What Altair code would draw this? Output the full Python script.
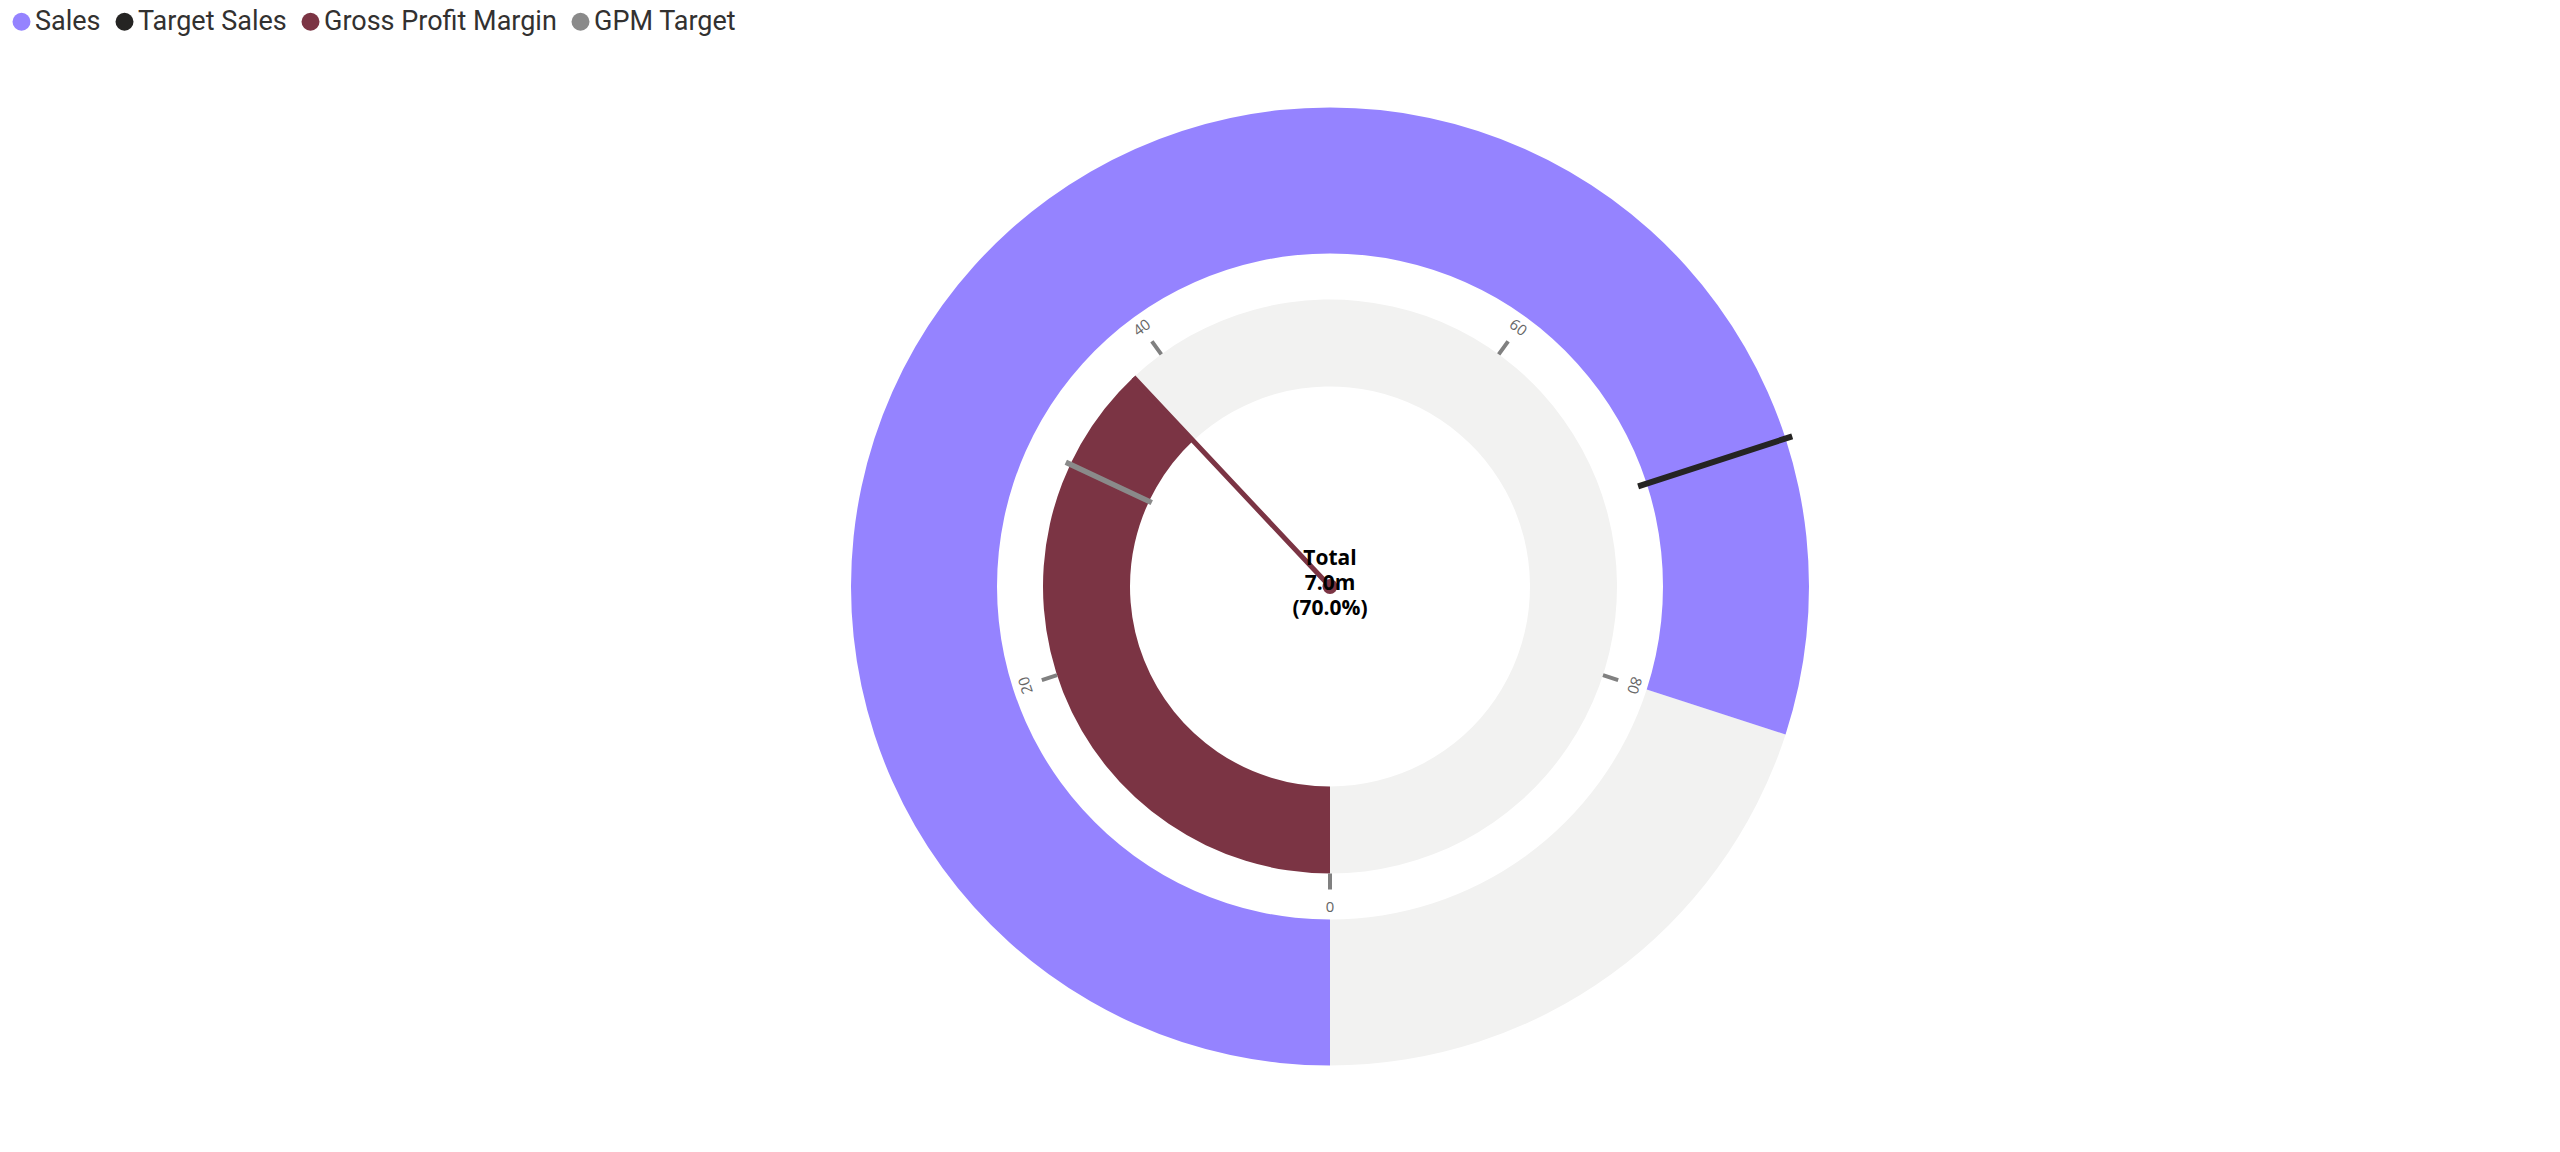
import math
import altair as alt
import pandas as pd

# ---- data ----
series_names = ["Sales", "Target Sales", "Gross Profit Margin", "GPM Target"]
series_colors = ["#9583FF", "#252423", "#7B3444", "#8A8A8A"]
gauge_min = 0
gauge_max = 100
sales_value = [80.0]
sales_target = [70.0]
gpm_value = [38.0]
gpm_target = [32.0]
tick_values = [0, 20, 40, 60, 80]
center_label = ["Total", "7.0m", "(70.0%)"]

track_color = "#F2F2F1"
tick_color = "#808080"
FONT = "Open Sans"
LEGEND_FONT = "Roboto"

theta_scale = alt.Scale(domain=[gauge_min, gauge_max], range=[math.pi, 3 * math.pi])


def th(field):
    return alt.Theta(f"{field}:Q", scale=theta_scale, stack=None)


color_enc = alt.Color(
    "series:N",
    scale=alt.Scale(domain=series_names, range=series_colors),
    legend=alt.Legend(
        title=None,
        orient="none",
        legendX=-122,
        legendY=-28.5,
        direction="horizontal",
        symbolType="circle",
        symbolSize=324,
        symbolStrokeWidth=0,
        labelFontSize=27,
        labelFont=LEGEND_FONT,
        labelColor="#323130",
        labelLimit=600,
        columnPadding=10,
        labelOffset=0,
        padding=0,
    ),
)

sales_df = pd.DataFrame({"series": ["Sales"], "start": [gauge_min], "end": sales_value})
gpm_df = pd.DataFrame({"series": ["Gross Profit Margin"], "start": [gauge_min], "end": gpm_value})
sales_track_df = pd.DataFrame({"start": sales_value, "end": [gauge_max]})
gpm_track_df = pd.DataFrame({"start": gpm_value, "end": [gauge_max]})
sales_tgt_df = pd.DataFrame({"value": sales_target})
gpm_tgt_df = pd.DataFrame({"value": gpm_target})
gpm_needle_df = pd.DataFrame({"value": gpm_value})
tick_df = pd.DataFrame({"value": tick_values})
dot_df = pd.DataFrame({"start": [gauge_min], "end": [gauge_max]})
center_df = pd.DataFrame({"label": ["\n".join(center_label)]})

sales_track = alt.Chart(sales_track_df).mark_arc(radius=479, radius2=333, color=track_color).encode(
    theta=th("start"), theta2="end"
)
gpm_track = alt.Chart(gpm_track_df).mark_arc(radius=287, radius2=200, color=track_color).encode(
    theta=th("start"), theta2="end"
)
sales_arc = alt.Chart(sales_df).mark_arc(radius=479, radius2=333).encode(
    theta=th("start"), theta2="end", color=color_enc
)
gpm_arc = alt.Chart(gpm_df).mark_arc(radius=287, radius2=200).encode(
    theta=th("start"), theta2="end", color=color_enc
)
sales_tgt = alt.Chart(sales_tgt_df).mark_arc(
    radius=486, radius2=324, color=series_colors[1], stroke=series_colors[1], strokeWidth=6
).encode(theta=th("value"), theta2="value")
gpm_tgt = alt.Chart(gpm_tgt_df).mark_arc(
    radius=292, radius2=197, color=series_colors[3], stroke=series_colors[3], strokeWidth=5.5
).encode(theta=th("value"), theta2="value")
ticks = alt.Chart(tick_df).mark_arc(
    radius=303, radius2=287, color=tick_color, stroke=tick_color, strokeWidth=4
).encode(theta=th("value"), theta2="value")
tick_labels = (
    alt.Chart(tick_df)
    .transform_calculate(rot=f"(180 + datum.value * 360 / {gauge_max}) % 360")
    .mark_text(radius=320, fontSize=15, font=FONT, color="#666666", align="center", baseline="middle")
    .encode(theta=th("value"), text="value:Q", angle=alt.Angle("rot:Q", scale=None))
)
needle = alt.Chart(gpm_needle_df).mark_arc(
    radius=287, radius2=0, color=series_colors[2], stroke=series_colors[2], strokeWidth=5
).encode(theta=th("value"), theta2="value")
dot = alt.Chart(dot_df).mark_arc(radius=7.5, color=series_colors[2]).encode(theta=th("start"), theta2="end")
center_text = alt.Chart(center_df).mark_text(
    fontSize=21, fontWeight="bold", font=FONT, lineBreak="\n", lineHeight=25,
    color="#000000", align="center", baseline="middle", dy=-27.5
).encode(text="label:N")

chart = (
    alt.layer(
        sales_track, gpm_track, sales_arc, gpm_arc, sales_tgt, gpm_tgt,
        ticks, tick_labels, needle, dot, center_text
    )
    .properties(
        width=2400,
        height=1100,
        padding={"left": 122, "top": 28.5, "right": 0, "bottom": 0},
        autosize=alt.AutoSizeParams(type="none"),
        background="#FFFFFF",
    )
    .configure_view(strokeWidth=0)
)

chart.save("out.html", embed_options={"renderer": "svg", "actions": False})
